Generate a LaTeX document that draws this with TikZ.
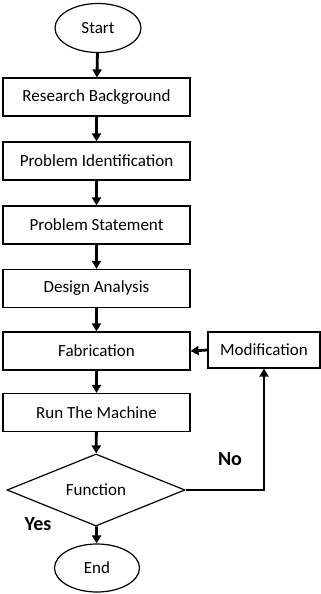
\documentclass[tikz,border=0pt]{standalone}
\usepackage{fontspec}
\setmainfont{Carlito}
\usetikzlibrary{shapes.geometric,arrows.meta}
\begin{document}
\begin{tikzpicture}[x=1pt,y=-1pt,
  box/.style={draw,line width=1.2pt,minimum width=187pt,minimum height=38pt,inner sep=0pt,font=\fontsize{17}{19}\selectfont},
  term/.style={draw,ellipse,line width=1.2pt,minimum width=86pt,minimum height=49pt,inner sep=0pt,font=\fontsize{17}{19}\selectfont},
  flow/.style={line width=2.8pt,-{Triangle[length=8pt,width=9pt]}},
  lbl/.style={font=\fontsize{20}{22}\bfseries\selectfont}]
\useasboundingbox (0,0) rectangle (321,594);
\node[term] (start) at (98,28) {Start};
\node[box] (rb) at (96.5,97) {Research Background};
\node[box] (pi) at (96.5,161) {Problem Identification};
\node[box] (ps) at (96.5,225) {Problem Statement};
\node[box] (da) at (96.5,288.5) {Design Analysis};
\node[box] (fab) at (96.5,351) {Fabrication};
\node[box] (run) at (96.5,412.5) {Run The Machine};
\node[box,minimum width=112pt,minimum height=36pt] (mod) at (264,350) {Modification};
\node[draw,diamond,line width=1.2pt,minimum width=178pt,minimum height=65pt,inner sep=0pt,font=\fontsize{17}{19}\selectfont] (fn) at (96,490) {Function};
\node[term,minimum width=85pt,minimum height=48pt] (end) at (97,568) {End};
\draw[flow] (start) -- (rb);
\draw[flow] (rb) -- (pi);
\draw[flow] (pi) -- (ps);
\draw[flow] (ps) -- (da);
\draw[flow] (da) -- (fab);
\draw[flow] (fab) -- (run);
\draw[flow] (run) -- (fn);
\draw[flow] (fn) -- (end);
\draw[flow] (mod.west) -- (fab.east);
\draw[flow] (fn.east) -| (mod.south);
\node[lbl] (no) at (230,459) {No};
\node[lbl] (yes) at (38,524) {Yes};
\end{tikzpicture}
\end{document}
